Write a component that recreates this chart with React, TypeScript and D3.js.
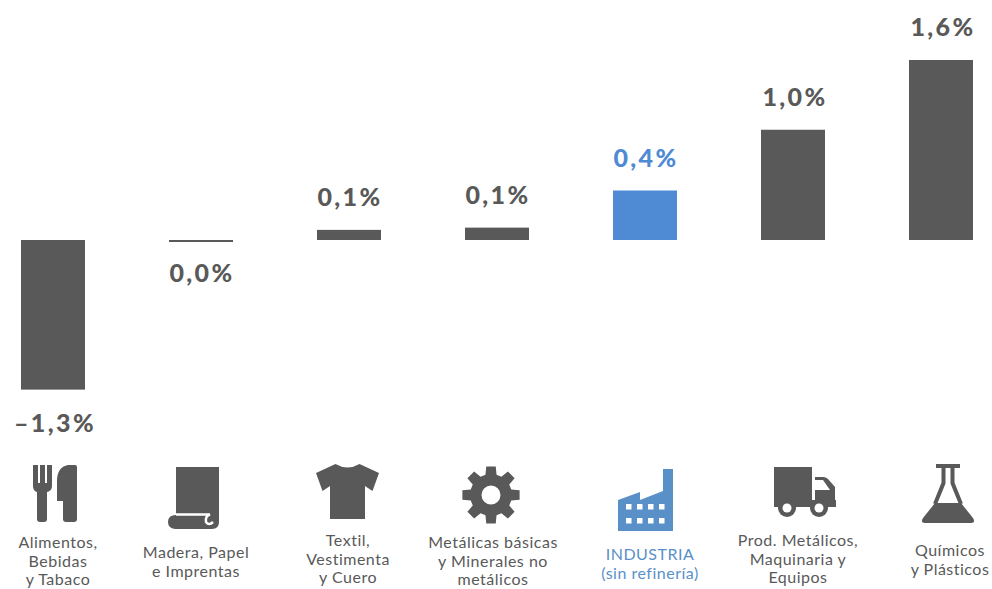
import * as d3 from "d3";

const categories = ["alimentos", "madera", "textil", "metalicas", "industria", "prod", "quimicos"];
const barValues = [-1.33, 0.01, 0.09, 0.11, 0.44, 0.98, 1.6];
const valueLabels = ["–1,3%", "0,0%", "0,1%", "0,1%", "0,4%", "1,0%", "1,6%"];
const categoryLabels = [
  ["Alimentos,", "Bebidas", "y Tabaco"],
  ["Madera, Papel", "e Imprentas"],
  ["Textil,", "Vestimenta", "y Cuero"],
  ["Metálicas básicas", "y Minerales no", "metálicos"],
  ["INDUSTRIA", "(sin refinería)"],
  ["Prod. Metálicos,", "Maquinaria y", "Equipos"],
  ["Químicos", "y Plásticos"],
];

const WIDTH = 992;
const HEIGHT = 589;
const GREY = "#595959";
const BLUE = "#4f8ad4";
const ICON_BLUE = "#5a90c8";
const FONT = "Lato, 'Noto Sans', sans-serif";

const x = d3
  .scaleBand<string>()
  .domain(categories)
  .range([-21, 1015])
  .paddingInner(84 / 148)
  .paddingOuter(42 / 148);

const y = d3.scaleLinear().domain([0, 1]).range([240, 127.5]);

// gear outline, 8 teeth round the centre
function gearPath(outer: number, inner: number, hole: number) {
  const pts: [number, number][] = [];
  const teeth = 8;
  for (let i = 0; i < teeth; i++) {
    const a = (i / teeth) * Math.PI * 2;
    const w = Math.PI / teeth;
    pts.push([a - w * 0.68, inner], [a - w * 0.42, outer], [a + w * 0.42, outer], [a + w * 0.68, inner]);
  }
  const line = d3.lineRadial().curve(d3.curveLinearClosed)(pts) ?? "";
  const hp = d3.arc()({ innerRadius: 0, outerRadius: hole, startAngle: 0, endAngle: Math.PI * 2 }) ?? "";
  return line + hp;
}

// Icons are drawn round (0, 0) = category centre at the top of the icon row
function Icon({ index }: { index: number }) {
  switch (index) {
    case 0:
      return (
        <g fill={GREY}>
          <path d="M-20,15 h5 v18 h2 v-18 h5 v18 h2 v-18 h5 v21 q0,5 -5,6 v27 q0,3 -3,3 h-4 q-3,0 -3,-3 v-27 q-4,-1 -4,-6 z" />
          <path d="M24,17 q0,-2 -2,-2 h-7 q-11,2 -11,16 v20 h6 v18 q0,3 3,3 h8 q3,0 3,-3 z" />
        </g>
      );
    case 1:
      return (
        <g>
          <path fill={GREY} d="M-25,17 H18 V72 Q18,79 11,79 H-26 Q-33,78 -33,72 Q-33,65 -25,65 Z" />
          <path fill="none" stroke="#fff" strokeWidth={2.5} d="M-25,64.5 H9 Q4,66 5,72 Q8,76 12,72" />
        </g>
      );
    case 2:
      return (
        <path
          fill={GREY}
          transform="translate(-1.5,0)"
          d="M-12,14 Q0,21 12,14 L31.5,23 L25,41 L17.5,36 V69 H-17.5 V36 L-25,41 L-31.5,23 Z"
        />
      );
    case 3:
      return (
        <path
          fill={GREY}
          fillRule="evenodd"
          transform="translate(-6,45)"
          d={gearPath(29, 21, 9.5)}
        />
      );
    case 4:
      return (
        <g>
          <path fill={ICON_BLUE} d="M-27,50 L-5,42 V50 L18,41 V19 H28 V81 H-27 Z" />
          {d3.range(4).flatMap((c) =>
            d3.range(2).map((r) => (
              <rect key={`${c}-${r}`} x={-19 + c * 11} y={54 + r * 14} width={5.5} height={5.5} fill="#fff" />
            )),
          )}
        </g>
      );
    case 5:
      return (
        <g fill={GREY}>
          <path d="M-19,17 H19 V55 H-19 Z" />
          <path d="M22,27 H30 Q33,27 35,29 L42,37 V55 H22 Z" />
          <path fill="#fff" d="M22,30 H30 L37,40 H22 Z" />
          <path d="M-19,50 H43 V57 H-19 Z" />
          <circle cx={-6} cy={58} r={9} />
          <circle cx={26} cy={58} r={9} />
          <circle cx={-6} cy={58} r={4.5} fill="#fff" />
          <circle cx={26} cy={58} r={4.5} fill="#fff" />
        </g>
      );
    default:
      return (
        <g transform="translate(7,0)">
          <path fill={GREY} d="M-12,14 H12 V18 H-12 Z" />
          <path fill="none" stroke={GREY} strokeWidth={4} d="M-4.5,18 V33 L-13,54 M4.5,18 V33 L13,54" />
          <path fill={GREY} d="M-13,53 H13 L25,68 Q28,73 23,73 H-23 Q-28,73 -25,68 Z" />
        </g>
      );
  }
}

// value and category labels sit slightly off the bar centre in the source
const labelShift = [5, -5, -1, -4, 5, 5, 9];
const valueShift = [2, 1, 1, 1, 1, 2, 2];
const labelFirstBaseline = [548, 558, 546, 548, 560, 546, 556];

export default function App() {
  return (
    <svg
      width={WIDTH}
      height={HEIGHT}
      viewBox={`0 0 ${WIDTH} ${HEIGHT}`}
      style={{ position: "absolute", left: 0, top: 0, background: "#fff" }}
    >
      {categories.map((c, i) => {
        const v = barValues[i];
        const cx = x(c)! + x.bandwidth() / 2;
        const top = y(Math.max(v, 0));
        const bot = y(Math.min(v, 0));
        const isTotal = c === "industria";
        const h = c === "madera" ? 2 : bot - top;
        const labelY = v < 0 ? bot + 42 : c === "madera" ? 282 : top - 24;
        return (
          <g key={c}>
            <rect
              x={x(c)!}
              y={c === "madera" ? y(0) : top}
              width={x.bandwidth()}
              height={h}
              fill={isTotal ? BLUE : GREY}
            />
            <text
              x={cx + valueShift[i]}
              y={labelY}
              textAnchor="middle"
              fontFamily={FONT}
              fontWeight={900}
              fontSize={25}
              letterSpacing="2.4px"
              fill={isTotal ? BLUE : GREY}
            >
              {valueLabels[i]}
            </text>
            <g transform={`translate(${cx},450)`}>
              <Icon index={i} />
            </g>
            <text
              textAnchor="middle"
              fontFamily={FONT}
              fontSize={16}
              letterSpacing="0.5px"
              fill={isTotal ? ICON_BLUE : GREY}
            >
              {categoryLabels[i].map((line, j) => (
                <tspan key={j} x={cx + labelShift[i]} y={labelFirstBaseline[i] + j * 18.5}>
                  {line}
                </tspan>
              ))}
            </text>
          </g>
        );
      })}
    </svg>
  );
}
